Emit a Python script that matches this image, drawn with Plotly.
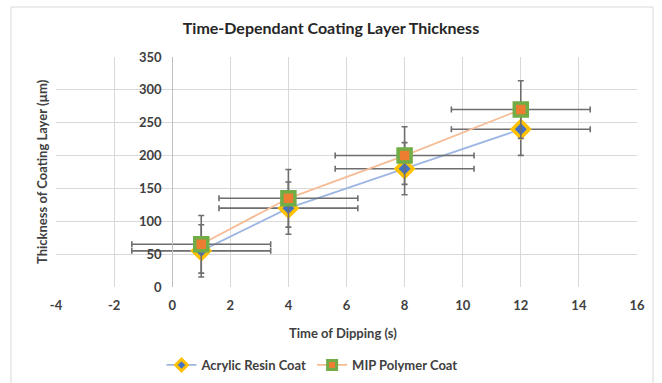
import plotly.graph_objects as go

# Data
time_s = [1, 4, 8, 12]
acrylic = [55, 120, 180, 240]
mip = [65, 135, 200, 270]
acrylic_yerr = [39.7, 39.7, 39.7, 39.7]
mip_yerr = [43.9, 43.9, 43.9, 43.9]
x_err = [2.39, 2.39, 2.39, 2.39]
x_ticks = [-4, -2, 0, 2, 4, 6, 8, 10, 12, 14, 16]
y_ticks = [0, 50, 100, 150, 200, 250, 300, 350]

W, H = 662, 383
L, R, T, B = 56, 25, 57, 96
FONT = "Lato"
pw = W - L - R
ph = H - T - B

def px_x(p):
    return (p - L) / pw

def px_y(p):
    return (H - B - p) / ph

err_color = "#6E6E6E"
ac_line, ac_fill, ac_edge = "#9DB6E3", "#4472C4", "#FFC000"
mp_line, mp_fill, mp_edge = "#F6BC95", "#ED7D31", "#70AD47"

fig = go.Figure()
fig.add_trace(go.Scatter(
    x=time_s, y=acrylic, name="Acrylic Resin Coat", mode="lines+markers", showlegend=False,
    line=dict(color=ac_line, width=1.8),
    marker=dict(symbol="diamond", size=13, color=ac_fill, line=dict(color=ac_edge, width=3.5)),
    error_y=dict(type="data", array=acrylic_yerr, color=err_color, thickness=1.6, width=3),
    error_x=dict(type="data", array=x_err, color=err_color, thickness=1.6, width=3),
))
fig.add_trace(go.Scatter(
    x=time_s, y=mip, name="MIP Polymer Coat", mode="lines+markers", showlegend=False,
    line=dict(color=mp_line, width=1.8),
    marker=dict(symbol="square", size=13, color=mp_fill, line=dict(color=mp_edge, width=3.5)),
    error_y=dict(type="data", array=mip_yerr, color=err_color, thickness=1.6, width=3),
    error_x=dict(type="data", array=x_err, color=err_color, thickness=1.6, width=3),
))
# legend entries with small markers
fig.add_trace(go.Scatter(
    x=[None], y=[None], name="Acrylic Resin Coat", mode="lines+markers",
    line=dict(color=ac_line, width=1.8),
    marker=dict(symbol="diamond", size=9, color=ac_fill, line=dict(color=ac_edge, width=3)),
))
fig.add_trace(go.Scatter(
    x=[None], y=[None], name="MIP Polymer Coat", mode="lines+markers",
    line=dict(color=mp_line, width=1.8),
    marker=dict(symbol="square", size=9, color=mp_fill, line=dict(color=mp_edge, width=3)),
))

tick_font = dict(family=FONT, size=13, color="#404040", weight="bold")

fig.update_layout(
    width=W, height=H,
    margin=dict(l=L, r=R, t=T, b=B, autoexpand=False),
    paper_bgcolor="white", plot_bgcolor="white",
    font=dict(family=FONT, color="#404040"),
    title=dict(text="<b>Time-Dependant Coating Layer Thickness</b>",
               x=0.5, xanchor="center", y=1 - 28 / H, yanchor="middle",
               font=dict(family=FONT, size=16, color="#262626")),
    xaxis=dict(range=[-4, 16], tickvals=x_ticks, ticktext=[str(v) for v in x_ticks],
               showgrid=True, gridcolor="#D9D9D9",
               gridwidth=1, zeroline=False, showline=False,
               ticks="outside", ticklen=6, tickcolor="rgba(0,0,0,0)",
               tickfont=tick_font, fixedrange=True),
    yaxis=dict(range=[0, 350], tickvals=y_ticks, ticktext=[str(v) for v in y_ticks],
               showgrid=True, gridcolor="#D9D9D9",
               gridwidth=1, zeroline=False, showline=True, linecolor="#BFBFBF",
               anchor="free", position=4 / 20,
               ticks="outside", ticklen=8, tickcolor="rgba(0,0,0,0)",
               tickfont=tick_font, fixedrange=True),
    showlegend=True,
    legend=dict(orientation="h", x=px_x(312), xanchor="center", y=px_y(365), yanchor="middle",
                font=dict(family=FONT, size=13, color="#404040", weight="bold"),
                bgcolor="rgba(0,0,0,0)", itemwidth=30, tracegroupgap=0),
    annotations=[
        dict(text="<b>Time of Dipping (s)</b>", xref="paper", yref="paper",
             x=px_x(343), y=px_y(333), xanchor="center", yanchor="middle", showarrow=False,
             font=dict(family=FONT, size=13, color="#404040")),
        dict(text="<b>Thickness of Coating Layer (µm)</b>", xref="paper", yref="paper",
             x=px_x(42), y=px_y(172), xanchor="center", yanchor="middle", showarrow=False,
             textangle=-90, font=dict(family=FONT, size=13, color="#404040")),
    ],
    shapes=[
        dict(type="rect", xref="paper", yref="paper",
             x0=px_x(11), x1=px_x(653), y0=px_y(395), y1=px_y(7),
             line=dict(color="#D9D9D9", width=1), layer="below"),
    ],
)

fig.write_html("out.html")
